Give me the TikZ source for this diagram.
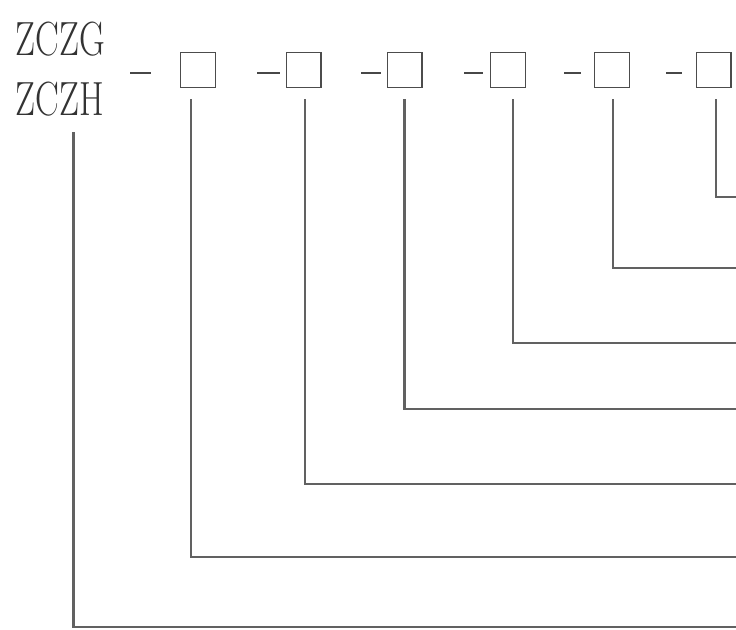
\documentclass[tikz,border=0pt]{standalone}
\usetikzlibrary{positioning, calc}

\newcommand{\narrowtext}[1]{\scalebox{0.74}[1]{#1}}

\begin{document}
\begin{tikzpicture}[x=0.75pt, y=-0.75pt,
    every node/.style={inner sep=0pt, outer sep=0pt},
    code/.style={font=\fontsize{36}{44}\selectfont, text=black!80, anchor=base west},
    slot/.style={draw=black!70, line width=1pt, minimum size=26pt},
    dashmark/.style={fill=black!72, minimum width=13pt, minimum height=1.7pt, yshift=-2.2pt},
    lead/.style={draw=black!62, line width=1.7pt, shorten <=9pt}]
    \useasboundingbox (0,0) rectangle (736,629);

    % model codes
    \node[code] (zczg) at (16,55) {\narrowtext{ZCZG}};
    \node[code] (zczh) at (16,115) {\narrowtext{ZCZH}};

    % code positions
    \node[slot] (b1) at (198,70) {};
    \node[slot] (b2) at (303.5,70) {};
    \node[slot] (b3) at (404.5,70) {};
    \node[slot] (b4) at (508,70) {};
    \node[slot] (b5) at (612,70) {};
    \node[slot] (b6) at (713.5,70) {};

    \node[dashmark, minimum width=16pt] (d1) at (140.5,70) {};
    \node[dashmark, minimum width=17pt, left=5pt of b2] (d2) {};
    \node[dashmark, minimum width=15pt, left=5pt of b3] (d3) {};
    \node[dashmark, minimum width=14pt, left=6pt of b4] (d4) {};
    \node[dashmark, left=10pt of b5] (d5) {};
    \node[dashmark, minimum width=12pt, left=10.5pt of b6] (d6) {};

    % right-hand ends of the leader lines
    \coordinate (e6) at (736,197);
    \coordinate (e5) at (736,268);
    \coordinate (e4) at (736,343);
    \coordinate (e3) at (736,409);
    \coordinate (e2) at (736,484);
    \coordinate (e1) at (736,557);
    \coordinate (e0) at (736,627);

    \draw[lead] ($(b6.south)+(2.5,0)$) |- (e6);
    \draw[lead] ($(b5.south)+(1,0)$) |- (e5);
    \draw[lead] ($(b4.south)+(5,0)$) |- (e4);
    \draw[lead] (b3.south) |- (e3);
    \draw[lead] ($(b2.south)+(1.5,0)$) |- (e2);
    \draw[lead] ($(b1.south)+(-7,0)$) |- (e1);
    \draw[lead, shorten <=12.5pt] ($(zczh.south west)+(57.5,0)$) |- (e0);
\end{tikzpicture}
\end{document}
